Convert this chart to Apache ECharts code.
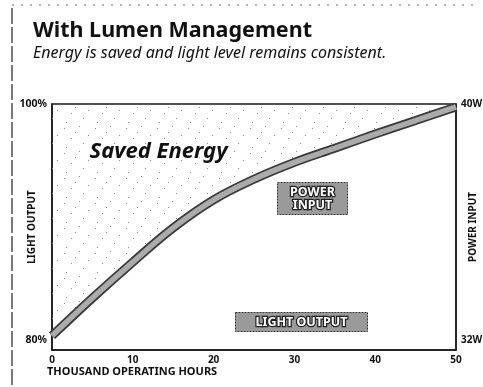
<!DOCTYPE html>
<html>
<head>
<meta charset="utf-8">
<script src="https://cdn.jsdelivr.net/npm/echarts@6/dist/echarts.min.js"></script>
<style>
  html, body { margin: 0; padding: 0; background: #fff; }
  #chart { width: 483px; height: 387px; }
</style>
</head>
<body>
<div id="chart"></div>
<script>
// Operating hours (thousands) and system power input (W) along the curve
const hours = [0, 5, 10, 15, 20, 25, 30, 35, 40, 45, 50];
const powerW = [32.14, 33.42, 34.64, 35.80, 36.75, 37.45, 38.02, 38.50, 38.98, 39.44, 39.9];

// Axis ticks
const hourTicks = [0, 10, 20, 30, 40, 50];
const lightTicks = [80, 100];   // % light output
const powerTicks = [32, 40];    // W power input

const FONT = '"Noto Sans", "Open Sans", sans-serif';

// Power axis spans a little below 32 W so the curve starts just above the frame
const powerMin = 31.66, powerMax = 40;
// light output axis is the same scale expressed as percent (32 W ↔ 80 %, 40 W ↔ 100 %)
const toPct = w => 80 + (w - 32) * 2.5;

// sparse stipple pattern for the saved-energy area
function stipple() {
  const c = document.createElement('canvas');
  c.width = 31; c.height = 25;
  const g = c.getContext('2d');
  g.fillStyle = '#888';
  const dots = [[2, 3], [17, 1], [26, 10], [9, 13], [21, 18], [4, 22], [13, 7]];
  dots.forEach(d => g.fillRect(d[0], d[1], 1, 1));
  return c;
}

const chart = echarts.init(document.getElementById('chart'), null, { renderer: 'canvas' });

const boxLabel = (left, top, w, h, text, lh) => ({
  type: 'group', left: left, top: top,
  children: [
    { type: 'rect', shape: { x: 0, y: 0, width: w, height: h },
      style: { fill: '#9a9a9a', stroke: '#333', lineWidth: 1, lineDash: [2, 1] } },
    { type: 'text', x: w / 2, y: h / 2,
      style: { text: text, fill: '#fff', stroke: '#222', lineWidth: 2.5,
               font: 'bold 12.5px ' + FONT, align: 'center', verticalAlign: 'middle', lineHeight: lh } }
  ]
});

const curve = hours.map((h, i) => [h, powerW[i]]);

chart.setOption({
  animation: false,
  backgroundColor: '#fff',
  grid: { left: 52, top: 104, right: 27, bottom: 37, outerBoundsMode: 'none',
          show: true, borderColor: '#1a1a1a', borderWidth: 1.5 },
  xAxis: {
    type: 'value', min: 0, max: 50, interval: 10,
    axisLine: { show: true, lineStyle: { color: '#1a1a1a', width: 1.5 } },
    axisTick: { show: false },
    splitLine: { show: false },
    axisLabel: { margin: 5, color: '#111', fontFamily: FONT, fontWeight: 'bold', fontSize: 10,
                 customValues: hourTicks }
  },
  yAxis: [
    {
      type: 'value', position: 'left', min: toPct(powerMin), max: 100,
      name: 'LIGHT OUTPUT', nameLocation: 'middle', nameRotate: 90, nameGap: 15,
      nameMoveOverlap: false,
      nameTextStyle: { color: '#111', fontFamily: FONT, fontWeight: 'bold', fontSize: 10 },
      axisLine: { show: true, lineStyle: { color: '#1a1a1a', width: 1.5 } },
      axisTick: { show: false }, splitLine: { show: false },
      axisLabel: { margin: 5, color: '#111', fontFamily: FONT, fontWeight: 'bold', fontSize: 10.5,
                   customValues: lightTicks, formatter: v => Math.round(v) + '%' }
    },
    {
      type: 'value', position: 'right', min: powerMin, max: powerMax,
      name: 'POWER INPUT', nameLocation: 'middle', nameRotate: 90, nameGap: 12,
      nameMoveOverlap: false,
      nameTextStyle: { color: '#111', fontFamily: FONT, fontWeight: 'bold', fontSize: 10 },
      axisLine: { show: true, lineStyle: { color: '#1a1a1a', width: 1.5 } },
      axisTick: { show: false }, splitLine: { show: false },
      axisLabel: { margin: 5, color: '#111', fontFamily: FONT, fontWeight: 'bold', fontSize: 10,
                   customValues: powerTicks, formatter: v => Math.round(v) + 'W' }
    }
  ],
  series: [
    {
      // stippled saved-energy area between the curve and the 40 W ceiling
      type: 'line', yAxisIndex: 1, symbol: 'none', smooth: 0.4, silent: true,
      data: curve,
      lineStyle: { opacity: 0 },
      areaStyle: { origin: 'end', color: { image: stipple(), repeat: 'repeat' }, opacity: 1 }, z: 1
    },
    {
      // dark edge of the power band
      type: 'line', yAxisIndex: 1, symbol: 'none', smooth: 0.4, silent: true,
      data: curve,
      lineStyle: { color: '#3a3a3a', width: 9, cap: 'butt' }, z: 3
    },
    {
      // grey core of the power band
      type: 'line', yAxisIndex: 1, symbol: 'none', smooth: 0.4, silent: true,
      data: curve,
      lineStyle: { color: '#ababab', width: 5.5, cap: 'butt' }, z: 4
    }
  ],
  graphic: [
    // page frame
    { type: 'line', shape: { x1: 12, y1: 8, x2: 12, y2: 387 },
      style: { stroke: '#222', lineWidth: 1.2, lineDash: [16, 3] } },
    { type: 'line', shape: { x1: 12, y1: 5, x2: 475, y2: 5 },
      style: { stroke: '#666', lineWidth: 1, lineDash: [2, 7] } },
    // heading
    { type: 'text', left: 33, top: 20,
      style: { text: 'With Lumen Management', fill: '#111', font: 'bold 21.5px ' + FONT } },
    { type: 'text', left: 33, top: 45,
      style: { text: 'Energy is saved and light level remains consistent.', fill: '#111',
               font: 'italic 16px ' + FONT } },
    // x axis title
    { type: 'text', left: 47, top: 366,
      style: { text: 'THOUSAND OPERATING HOURS', fill: '#111', font: 'bold 11px ' + FONT } },
    // area caption
    { type: 'text', left: 88, top: 139, z: 10,
      style: { text: 'Saved Energy', fill: '#111', font: 'italic bold 22px ' + FONT,
               stroke: '#fff', lineWidth: 3 } },
    boxLabel(277, 182, 70, 32, 'POWER\nINPUT', 13),
    boxLabel(235, 312, 132, 19, 'LIGHT OUTPUT', 13)
  ]
});
</script>
</body>
</html>
